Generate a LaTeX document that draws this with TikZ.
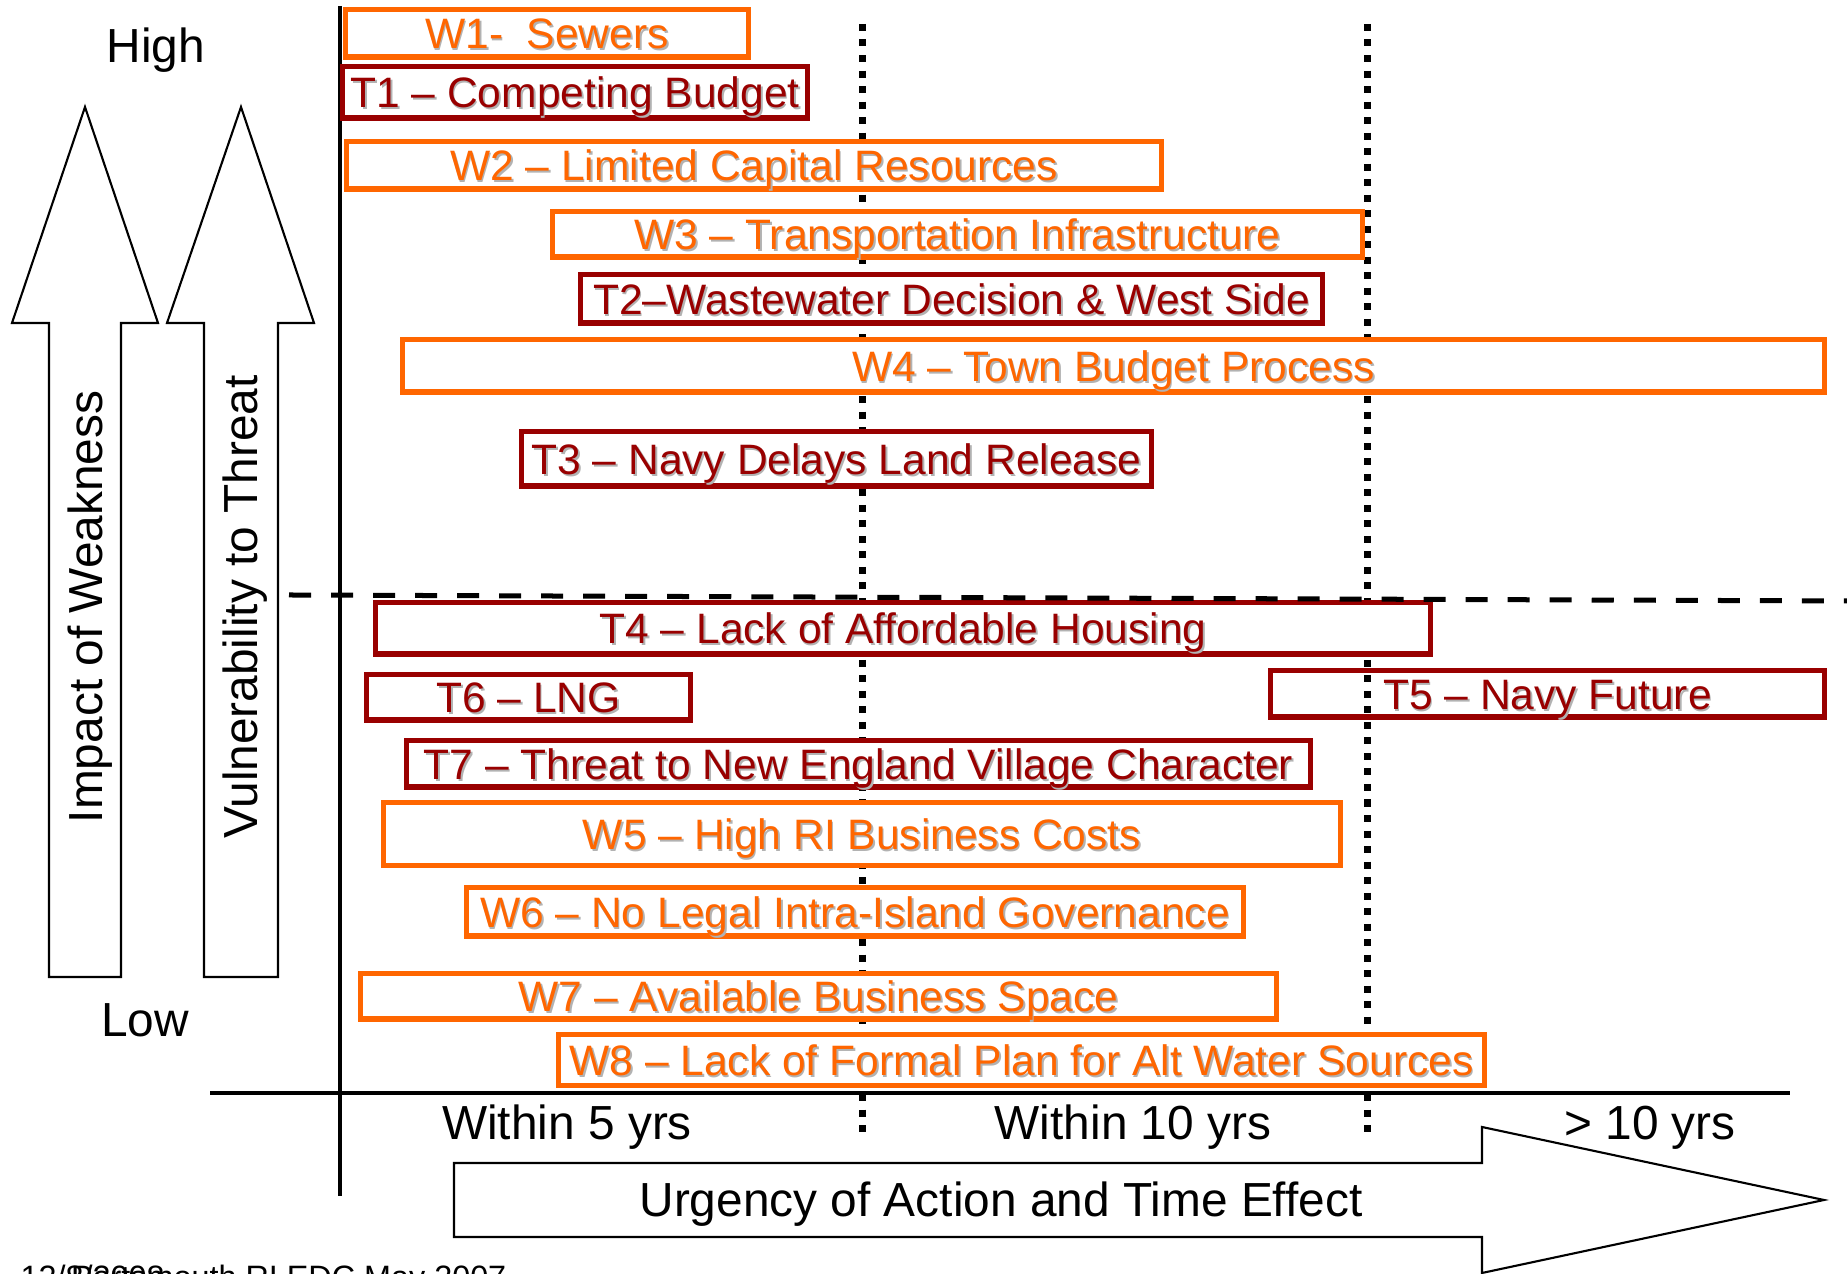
\documentclass[tikz,border=0pt]{standalone}
\usepackage{fontspec}
\setmainfont{Liberation Sans}
\usepackage{tikz}

\begin{document}
\begin{tikzpicture}[x=0.01cm,y=-0.01cm]
  % Local definitions
  \def\boxfont{\fontsize{12.1}{14}\selectfont}
  \def\axisfont{\fontsize{13.6}{16}\selectfont}
  \def\shd#1{\makebox[0pt][l]{\hspace{0.5pt}\raisebox{-0.5pt}{\color{shadowgray}#1}}#1}

  % Colors
  \definecolor{weakcolor}{RGB}{255,102,0}
  \definecolor{threatcolor}{RGB}{153,0,0}
  \colorlet{shadowgray}{black!30}

  % Styles
  \tikzstyle{weakness}=[draw=weakcolor,text=weakcolor,fill=white,line width=0.055cm,
    inner sep=0pt,font=\boxfont,text height=8.7pt,text depth=0pt]
  \tikzstyle{threat}=[weakness,draw=threatcolor,text=threatcolor]
  \tikzstyle{big arrow}=[draw,line width=0.6pt,fill=white]
  \tikzstyle{axis line}=[line width=0.04cm]
  \tikzstyle{period line}=[line width=0.07cm,dash pattern=on 0.07cm off 0.085cm]
  \tikzstyle{divide line}=[line width=0.05cm,dash pattern=on 0.22cm off 0.2cm]
  \tikzstyle{axis text}=[font=\axisfont,anchor=base]
  \tikzstyle{foot text}=[font=\fontsize{9.2}{11}\selectfont,inner sep=0pt]

  \useasboundingbox (0,0) rectangle (1847,1274);

  % The graphic
  \draw[big arrow] (49,977) -- (49,323) -- (12,323) -- (85,107) -- (158,323)
    -- (121,323) -- (121,977) -- cycle;
  \draw[big arrow] (204,977) -- (204,323) -- (167,323) -- (241,107) -- (314,323)
    -- (278,323) -- (278,977) -- cycle;
  \draw[big arrow] (454,1163) -- (1482,1163) -- (1482,1127) -- (1824,1200)
    -- (1482,1273) -- (1482,1237) -- (454,1237) -- cycle;

  \begin{scope}[style=axis line]
    \draw (340,6) -- (340,1196);
    \draw (210,1093) -- (1790,1093);
  \end{scope}

  % threat box that sits under the time line
  \node[threat,fill=none,minimum width=5.535cm,minimum height=0.465cm] (t5) at (1547.5,694) {\shd{T5 – Navy Future}};

  % time periods
  \draw[period line] (862,24) -- (862,1137);
  \draw[period line] (1367,24) -- (1367,1137);

  % Weaknesses and threats
  \node[weakness,minimum width=4.025cm,minimum height=0.475cm] (w1) at (547,33.5) {\shd{W1-\ \ Sewers}};
  \node[threat,minimum width=4.645cm,minimum height=0.515cm] (t1) at (575,92.5) {\shd{T1 – Competing Budget}};
  \node[weakness,minimum width=8.145cm,minimum height=0.475cm] (w2) at (754,165.5) {\shd{W2 – Limited Capital Resources}};
  \node[weakness,minimum width=8.095cm,minimum height=0.455cm] (w3) at (957.5,234.5) {\shd{W3 – Transportation Infrastructure}};
  \node[threat,minimum width=7.415cm,minimum height=0.485cm] (t2) at (951.5,299) {\shd{T2–Wastewater Decision \& West Side}};
  \node[weakness,minimum width=14.215cm,minimum height=0.525cm] (w4) at (1113.5,366) {\shd{W4 – Town Budget Process}};
  \node[threat,minimum width=6.295cm,minimum height=0.545cm] (t3) at (836.5,459) {\shd{T3 – Navy Delays Land Release}};
  \node[threat,minimum width=10.545cm,minimum height=0.515cm] (t4) at (903,628.5) {\shd{T4 – Lack of Affordable Housing}};
  \node[threat,minimum width=3.235cm,minimum height=0.455cm] (t6) at (528.5,697.5) {\shd{T6 – LNG}};
  \node[threat,minimum width=9.035cm,minimum height=0.465cm] (t7) at (858.5,764) {\shd{T7 – Threat to New England Village Character}};
  \node[weakness,minimum width=9.565cm,minimum height=0.625cm] (w5) at (862,834) {\shd{W5 – High RI Business Costs}};
  \node[weakness,minimum width=7.765cm,minimum height=0.485cm] (w6) at (855,912) {\shd{W6 – No Legal Intra-Island Governance}};
  \node[weakness,minimum width=9.155cm,minimum height=0.455cm] (w7) at (818.5,996.5) {\shd{W7 – Available Business Space}};
  \node[weakness,minimum width=9.255cm,minimum height=0.505cm] (w8) at (1021.5,1060) {\shd{W8 – Lack of Formal Plan for Alt Water Sources}};

  \draw[divide line] (289,595) -- (1847,601);

  % Labels
  \node[axis text] (high) at (156,63) {High};
  \node[axis text] (low) at (145,1037) {Low};
  \node[axis text,rotate=90] (impact) at (102,607) {Impact of Weakness};
  \node[axis text,rotate=90] (vulner) at (258,607) {Vulnerability to Threat};
  \node[axis text] (within5) at (567,1140) {Within 5 yrs};
  \node[axis text] (within10) at (1133,1140) {Within 10 yrs};
  \node[axis text] (beyond10) at (1650,1140) {> 10 yrs};
  \node[axis text] (urgency) at (1001,1217) {Urgency of Action and Time Effect};

  % footer, cut off by the page edge
  \node[foot text,anchor=base west] (footdate) at (20,1289) {12/8/2008};
  \node[foot text,anchor=base east] (footorg) at (507,1289) {Portsmouth RI EDC May 2007};

\end{tikzpicture}
\end{document}
